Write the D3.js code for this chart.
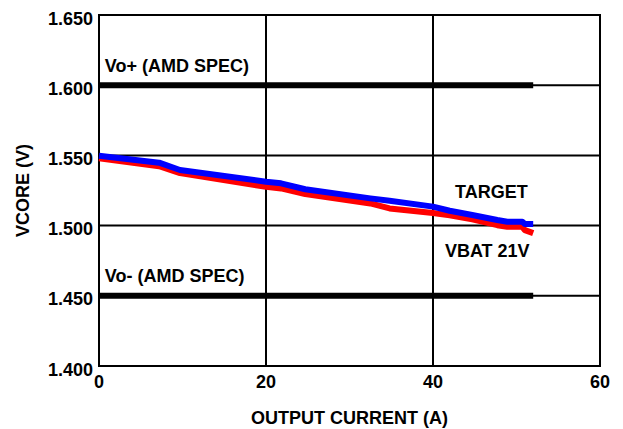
<!DOCTYPE html>
<html>
<head>
<meta charset="utf-8">
<script src="https://cdn.jsdelivr.net/npm/d3@7"></script>
<style>
  html, body { margin: 0; padding: 0; background: #fff; }
  svg { display: block; }
  text { font-family: "Liberation Sans", Arial, sans-serif; font-weight: bold; fill: #000; }
</style>
</head>
<body>
<svg id="chart" width="623" height="429"></svg>
<script>
// ---- data ----
const currentA = [0, 7.2, 9.7, 20, 21.8, 24.7, 32.5, 34.8, 40, 42, 44.7, 47.7, 48.9, 50.7, 51, 52];
const targetV  = [1.5498, 1.5448, 1.5396, 1.5313, 1.5301, 1.5259, 1.5194, 1.5177, 1.5135, 1.5106, 1.5076, 1.5040, 1.5028, 1.5028, 1.5012, 1.5012];
const vbat21V  = [1.5480, 1.5423, 1.5374, 1.5276, 1.5265, 1.5224, 1.5158, 1.5122, 1.5090, 1.5074, 1.5044, 1.5003, 1.4991, 1.4991, 1.4968, 1.4946];
const specCurrent = [0, 52];
const voPlus  = [1.600, 1.600];
const voMinus = [1.450, 1.450];
const xTicks = [0, 20, 40, 60];
const yTicks = [1.400, 1.450, 1.500, 1.550, 1.600, 1.650];
const xTitle = "OUTPUT CURRENT (A)";
const yTitle = "VCORE (V)";
const labels = [
  {text: "Vo+ (AMD SPEC)", x: 0.7, y: 1.6095},
  {text: "Vo- (AMD SPEC)", x: 0.7, y: 1.4595},
  {text: "TARGET", x: 47.0, y: 1.5200, anchor: "middle"},
  {text: "VBAT 21V", x: 46.5, y: 1.4773, anchor: "middle"}
];

// ---- layout ----
const W = 623, H = 429;
const m = {left: 99, top: 15, right: 23, bottom: 63};
const svg = d3.select("#chart");
const x = d3.scaleLinear().domain([0, 60]).range([m.left, W - m.right]);
const y = d3.scaleLinear().domain([1.400, 1.650]).range([H - m.bottom, m.top]);

// gridlines
const g = svg.append("g");
g.selectAll("line.vx").data(xTicks.slice(1, -1)).join("line")
  .attr("x1", d => x(d)).attr("x2", d => x(d))
  .attr("y1", y(1.400)).attr("y2", y(1.650))
  .attr("stroke", "#000").attr("stroke-width", 2);
g.selectAll("line.hy").data(yTicks.slice(1, -1)).join("line")
  .attr("x1", x(0)).attr("x2", x(60))
  .attr("y1", d => y(d)).attr("y2", d => y(d))
  .attr("stroke", "#000").attr("stroke-width", 2);

// frame
svg.append("rect")
  .attr("x", x(0)).attr("y", y(1.650))
  .attr("width", x(60) - x(0)).attr("height", y(1.400) - y(1.650))
  .attr("fill", "none").attr("stroke", "#000").attr("stroke-width", 2);

// tick labels
svg.append("g").selectAll("text").data(yTicks).join("text")
  .attr("x", x(0) - 6).attr("y", d => y(d) + 9.5)
  .attr("text-anchor", "end").attr("font-size", 18)
  .text(d => d3.format(".3f")(d));
svg.append("g").selectAll("text").data(xTicks).join("text")
  .attr("x", d => x(d)).attr("y", y(1.400) + 22)
  .attr("text-anchor", "middle").attr("font-size", 18)
  .text(d => d);

// axis titles
svg.append("text")
  .attr("transform", `translate(29,${(y(1.400) + y(1.650)) / 2}) rotate(-90)`)
  .attr("text-anchor", "middle").attr("font-size", 18)
  .text(yTitle);
svg.append("text")
  .attr("x", (x(0) + x(60)) / 2).attr("y", 424)
  .attr("text-anchor", "middle").attr("font-size", 18)
  .text(xTitle);

// spec lines
const specLine = d3.line().x((d, i) => x(specCurrent[i])).y(d => y(d));
[voPlus, voMinus].forEach(arr => {
  svg.append("path").attr("d", specLine(arr))
    .attr("fill", "none").attr("stroke", "#000").attr("stroke-width", 6);
});

// data lines
const dataLine = d3.line().x((d, i) => x(currentA[i])).y(d => y(d));
svg.append("path").attr("d", dataLine(vbat21V))
  .attr("fill", "none").attr("stroke", "#ff0000").attr("stroke-width", 6)
  .attr("stroke-linejoin", "round");
svg.append("path").attr("d", dataLine(targetV))
  .attr("fill", "none").attr("stroke", "#0000ff").attr("stroke-width", 6)
  .attr("stroke-linejoin", "round");

// annotations
svg.append("g").selectAll("text").data(labels).join("text")
  .attr("x", d => x(d.x)).attr("y", d => y(d.y))
  .attr("text-anchor", d => d.anchor || "start")
  .attr("font-size", 18)
  .text(d => d.text);
</script>
</body>
</html>
